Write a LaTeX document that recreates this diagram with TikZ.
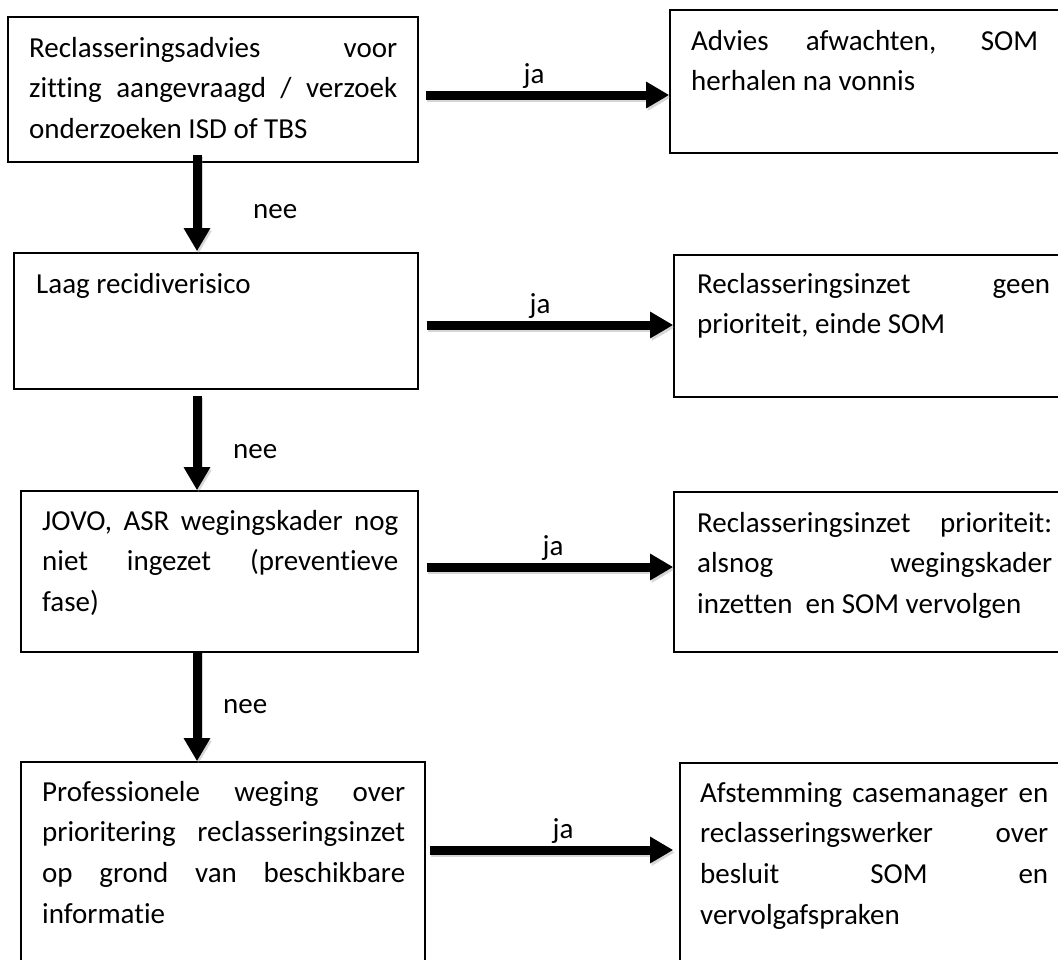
\documentclass[tikz,border=0pt]{standalone}
\usepackage{fontspec}
\setmainfont{Carlito}[Ligatures=NoCommon]
\usetikzlibrary{arrows.meta,calc}

\tikzset{
  box/.style={draw=black, line width=1.6pt, rectangle, inner sep=0pt},
  txt/.style={inner sep=0pt, anchor=base west, font=\fontsize{29}{40.7}\selectfont},
  lbl/.style={inner sep=0pt, anchor=base, font=\fontsize{29}{35}\selectfont},
  lblw/.style={inner sep=0pt, anchor=base west, font=\fontsize{29}{35}\selectfont},
  flow/.style={line width=9pt, black, -{Triangle[length=23pt,width=25pt]}},
  flowshadow/.style={line width=9pt, black!45, opacity=0.35, -{Triangle[length=23pt,width=25pt]},
    transform canvas={shift={(1.5pt,-2.5pt)}}},
}
\newcommand{\jl}[1]{\makebox[\linewidth][s]{#1}}
\newcommand{\blk}[2]{\parbox[t]{#1}{\setlength{\parindent}{0pt}#2}}

\begin{document}
\begin{tikzpicture}[x=1pt, y=-1pt]
\useasboundingbox (0,0) rectangle (1058,959);
\fill[white] (0,0) rectangle (1058,959);
\clip (0,0) rectangle (1058,959);

% boxes
\node[box, minimum width=410pt, minimum height=145pt] (b1) at (213,89.5) {};
\node[box, minimum width=404pt, minimum height=136pt] (b2) at (216,321) {};
\node[box, minimum width=397pt, minimum height=161pt] (b3) at (219.5,571.5) {};
\node[box, minimum width=404pt, minimum height=213pt] (b4) at (223,868.5) {};
\node[box, minimum width=392pt, minimum height=143pt] (r1) at (866,81.5) {};
\node[box, minimum width=388pt, minimum height=142pt] (r2) at (868,326) {};
\node[box, minimum width=388pt, minimum height=160pt] (r3) at (868,572) {};
\node[box, minimum width=382pt, minimum height=212pt] (r4) at (871,869) {};

% texts
\node[txt] (t1) at (29,57) {\blk{368pt}{\jl{Reclasseringsadvies voor}\\\jl{zitting~ aangevraagd~ /~ verzoek}\\onderzoeken ISD of TBS}};
\node[txt] (t2) at (36,293) {Laag recidiverisico};
\node[txt] (t3) at (42,530) {\blk{356pt}{\jl{JOVO, ASR wegingskader nog}\\\jl{niet ingezet (preventieve}\\fase)}};
\node[txt] (t4) at (42,801) {\blk{363pt}{\jl{Professionele weging over}\\\jl{prioritering reclasseringsinzet}\\\jl{op grond van beschikbare}\\informatie}};
\node[txt] (u1) at (691,50) {\blk{347pt}{\jl{Advies afwachten, SOM}\\herhalen na vonnis}};
\node[txt] (u2) at (697,293) {\blk{353pt}{\jl{Reclasseringsinzet geen}\\prioriteit, einde SOM}};
\node[txt] (u3) at (697,532) {\blk{355pt}{\jl{Reclasseringsinzet prioriteit:}\\\jl{alsnog wegingskader}\\inzetten~ en SOM vervolgen}};
\node[txt] (u4) at (700,802) {\blk{348pt}{\jl{Afstemming casemanager en}\\\jl{reclasseringswerker over}\\\jl{besluit SOM en}\\vervolgafspraken}};

% arrow rows / column
\coordinate (h1) at (0,95);
\coordinate (h2) at (0,325);
\coordinate (h3) at (0,567);
\coordinate (h4) at (0,850);
\coordinate (vx) at (197,0);

% arrows (ja horizontal, nee vertical)
\foreach \s in {flowshadow,flow}{
  \draw[\s] ($(b1.east |- h1)+(7,0)$) -- (r1.west |- h1);
  \draw[\s] ($(b2.east |- h2)+(8,0)$) -- (r2.west |- h2);
  \draw[\s] ($(b3.east |- h3)+(8,0)$) -- (r3.west |- h3);
  \draw[\s] ($(b4.east |- h4)+(4,0)$) -- ($(r4.west |- h4)+(-6,0)$);
  \draw[\s] ($(vx |- b1.south)+(0,-8)$) -- ($(vx |- b2.north)+(0,-1)$);
  \draw[\s] ($(vx |- b2.south)+(0,6)$) -- (vx |- b3.north);
  \draw[\s] ($(vx |- b3.south)+(0,-2)$) -- (vx |- b4.north);
}

% labels
\node[lbl] (ja1) at (534,83) {ja};
\node[lbl] (ja2) at (540,313) {ja};
\node[lbl] (ja3) at (553,555) {ja};
\node[lbl] (ja4) at (563,838) {ja};
\node[lblw] (nee1) at (253,218) {nee};
\node[lblw] (nee2) at (233,458) {nee};
\node[lblw] (nee3) at (223,713) {nee};
\end{tikzpicture}
\end{document}
